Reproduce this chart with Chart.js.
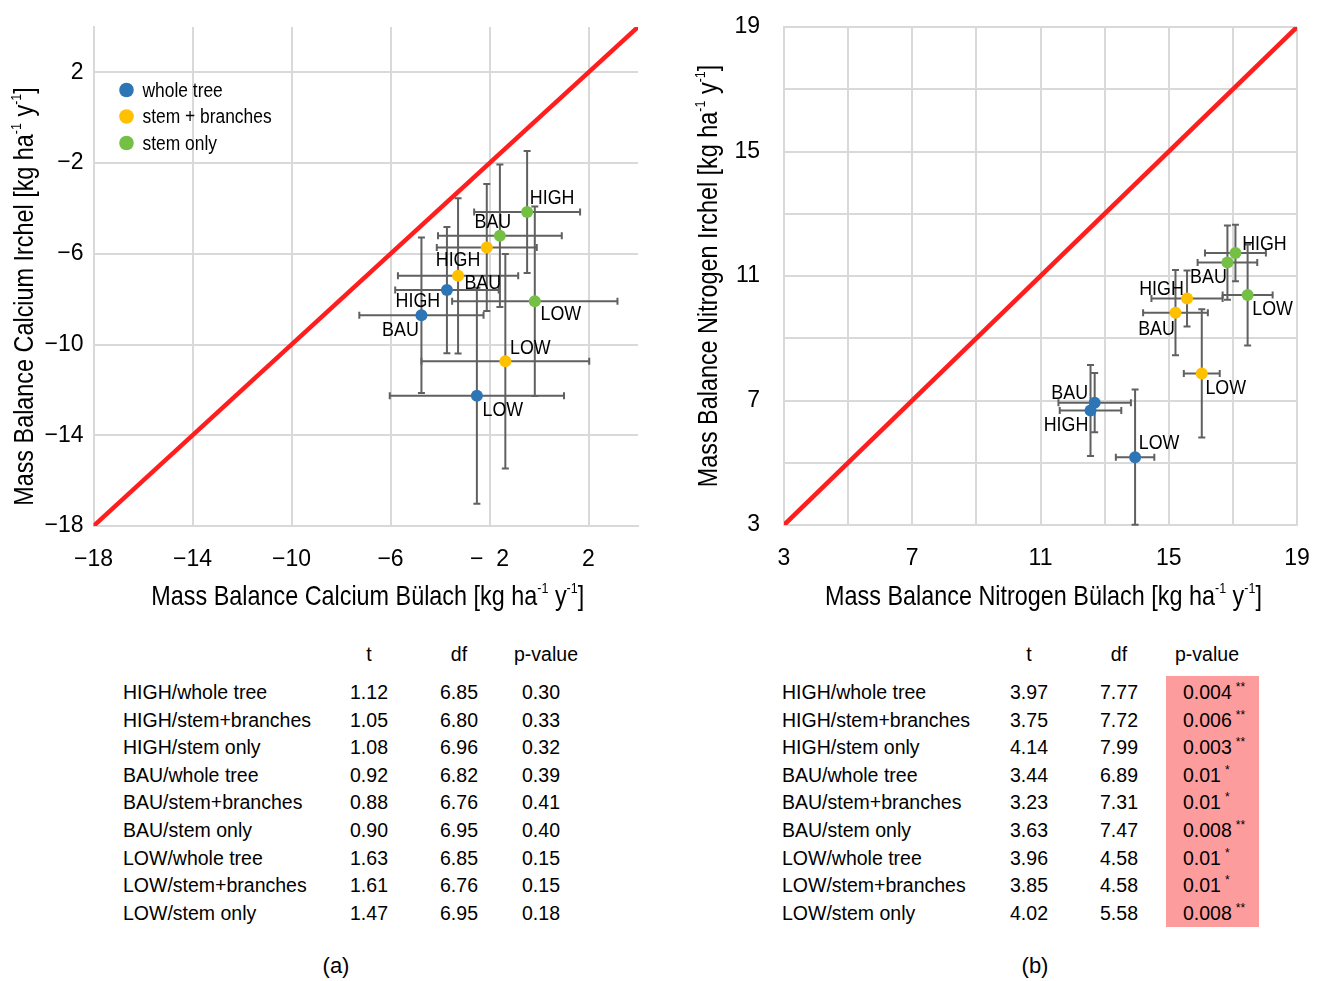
<!DOCTYPE html>
<html><head><meta charset="utf-8">
<script src="https://cdn.jsdelivr.net/npm/chart.js@4.4.1/dist/chart.umd.min.js"></script>
<style>
html,body{margin:0;padding:0;background:#fff;width:1322px;height:981px;overflow:hidden;font-family:"Liberation Sans",Arial,sans-serif;color:#000}
#w1{position:absolute;left:0;top:0;width:660px;height:620px}
#w2{position:absolute;left:660px;top:0;width:662px;height:620px}
.cell{position:absolute;font-size:19.5px;line-height:22px;white-space:nowrap}
.ctr{transform:translateX(-50%)}
.pink{position:absolute;background:#fd9c9c}
.cap{position:absolute;font-size:22px;transform:translateX(-50%)}
span.s{font-size:12px;position:relative;top:-8px;margin-left:4px;vertical-align:baseline;line-height:0}
</style>
</head><body>
<div id="w1"><canvas id="c1" width="660" height="620"></canvas></div>
<div id="w2"><canvas id="c2" width="662" height="620"></canvas></div>
<div id="tables"></div>
<script>
// ---------- data ----------
const groupNames = ['whole tree', 'stem + branches', 'stem only'];
const groupColors = ['#2E75B6', '#FFC000', '#74C044'];
const pointNames = ['HIGH', 'BAU', 'LOW'];

// (a) Calcium  (order: HIGH, BAU, LOW)
const caWholeX = [-3.72, -4.75, -2.51];
const caWholeY = [-7.60, -8.71, -12.26];
const caWholeXErr = [2.09, 2.51, 3.52];
const caWholeYErr = [2.78, 3.43, 4.76];
const caStemBrX = [-3.27, -2.11, -1.36];
const caStemBrY = [-6.97, -5.72, -10.74];
const caStemBrXErr = [2.43, 2.02, 3.39];
const caStemBrYErr = [3.42, 2.80, 4.73];
const caStemX = [-0.48, -1.58, -0.17];
const caStemY = [-4.16, -5.20, -8.09];
const caStemXErr = [2.14, 2.50, 3.34];
const caStemYErr = [2.69, 3.14, 4.18];
const caMin = -18, caMax = 4;
const caTicks = [-18, -14, -10, -6, -2, 2];
const caXTickLabels = ['\u221218', '\u221214', '\u221210', '\u22126', '\u2212  2', '2'];
const caYTickLabels = ['\u221218', '\u221214', '\u221210', '\u22126', '\u22122', '2'];

// (b) Nitrogen (order: HIGH, BAU, LOW)
const nWholeX = [12.56, 12.69, 13.95];
const nWholeY = [6.68, 6.93, 5.18];
const nWholeXErr = [0.96, 1.13, 0.60];
const nWholeYErr = [1.46, 0.95, 2.17];
const nStemBrX = [15.57, 15.21, 16.03];
const nStemBrY = [10.28, 9.82, 7.87];
const nStemBrXErr = [1.11, 1.01, 0.56];
const nStemBrYErr = [0.90, 1.37, 2.06];
const nStemX = [17.08, 16.83, 17.46];
const nStemY = [11.74, 11.43, 10.39];
const nStemXErr = [0.95, 0.93, 0.78];
const nStemYErr = [0.91, 1.19, 1.62];
const nMin = 3, nMax = 19;
const nGridValues = [3, 5, 7, 9, 11, 13, 15, 17, 19];
const nTickLabels = [3, 7, 11, 15, 19];

const oneToOne = [-18, 4, 3, 19]; // endpoints of the 1:1 line for (a) and (b)

// tables
const rowNames = ['HIGH/whole tree','HIGH/stem+branches','HIGH/stem only','BAU/whole tree','BAU/stem+branches','BAU/stem only','LOW/whole tree','LOW/stem+branches','LOW/stem only'];
const caT  = ['1.12','1.05','1.08','0.92','0.88','0.90','1.63','1.61','1.47'];
const caDf = ['6.85','6.80','6.96','6.82','6.76','6.95','6.85','6.76','6.95'];
const caP  = ['0.30','0.33','0.32','0.39','0.41','0.40','0.15','0.15','0.18'];
const nT   = ['3.97','3.75','4.14','3.44','3.23','3.63','3.96','3.85','4.02'];
const nDf  = ['7.77','7.72','7.99','6.89','7.31','7.47','4.58','4.58','5.58'];
const nP   = ['0.004','0.006','0.003','0.01','0.01','0.008','0.01','0.01','0.008'];
const nSig = ['**','**','**','*','*','**','*','*','**'];

// ---------- helpers ----------
const FONT = '"Liberation Sans", Arial, sans-serif';
function pts(xs, ys) { return xs.map((v, i) => ({ x: v, y: ys[i] })); }
function narrowText(ctx, text, x, y, sx) {
  ctx.save(); ctx.translate(x, y); ctx.scale(sx, 1); ctx.fillText(text, 0, 0); ctx.restore();
}

const errorBars = {
  id: 'errorBars',
  beforeDatasetsDraw(chart, args, o) {
    const { ctx, chartArea: a, scales: { x, y } } = chart;
    ctx.save();
    ctx.beginPath(); ctx.rect(a.left, a.top - 1, a.right - a.left, a.bottom - a.top + 2); ctx.clip();
    ctx.strokeStyle = o.color; ctx.lineWidth = o.width;
    chart.data.datasets.forEach(ds => {
      if (!ds.xErr) return;
      ds.data.forEach((p, i) => {
        const px = x.getPixelForValue(p.x), py = y.getPixelForValue(p.y);
        const x0 = x.getPixelForValue(p.x - ds.xErr[i]), x1 = x.getPixelForValue(p.x + ds.xErr[i]);
        const y0 = y.getPixelForValue(p.y - ds.yErr[i]), y1 = y.getPixelForValue(p.y + ds.yErr[i]);
        const c = o.cap;
        ctx.beginPath();
        ctx.moveTo(x0, py); ctx.lineTo(x1, py);
        ctx.moveTo(x0, py - c); ctx.lineTo(x0, py + c);
        ctx.moveTo(x1, py - c); ctx.lineTo(x1, py + c);
        ctx.moveTo(px, y0); ctx.lineTo(px, y1);
        ctx.moveTo(px - c, y0); ctx.lineTo(px + c, y0);
        ctx.moveTo(px - c, y1); ctx.lineTo(px + c, y1);
        ctx.stroke();
      });
    });
    ctx.restore();
  }
};

const pointLabels = {
  id: 'pointLabels',
  afterDatasetsDraw(chart, args, o) {
    const { ctx, scales: { x, y } } = chart;
    ctx.save();
    ctx.font = o.size + 'px ' + FONT; ctx.fillStyle = '#000';
    ctx.textAlign = 'center'; ctx.textBaseline = 'middle';
    chart.data.datasets.forEach((ds, di) => {
      if (!ds.names) return;
      ds.data.forEach((p, i) => {
        const off = o.offsets[di][i];
        narrowText(ctx, ds.names[i], x.getPixelForValue(p.x) + off[0], y.getPixelForValue(p.y) + off[1] + 1, o.sx);
      });
    });
    ctx.restore();
  }
};

const insideLegend = {
  id: 'insideLegend',
  afterDatasetsDraw(chart, args, o) {
    if (!o.show) return;
    const { ctx, chartArea: a } = chart;
    ctx.save();
    ctx.font = o.size + 'px ' + FONT; ctx.textBaseline = 'middle'; ctx.textAlign = 'left';
    chart.data.datasets.filter(d => d.names).forEach((ds, i) => {
      const cy = a.top + o.dy + i * o.step;
      ctx.fillStyle = ds.backgroundColor;
      ctx.beginPath(); ctx.arc(a.left + o.dx, cy, o.r, 0, Math.PI * 2); ctx.fill();
      ctx.fillStyle = '#000';
      narrowText(ctx, ds.label, a.left + o.dx + 16, cy + 1, o.sx);
    });
    ctx.restore();
  }
};

function drawRich(ctx, parts, cx, cy, size, sx, rot) {
  ctx.save(); ctx.translate(cx, cy); if (rot) ctx.rotate(-Math.PI / 2); ctx.scale(sx, 1);
  const big = size + 'px ' + FONT, small = Math.round(size * 0.55) + 'px ' + FONT;
  let w = 0;
  parts.forEach(([t, s]) => { ctx.font = s ? small : big; w += ctx.measureText(t).width; });
  let xx = -w / 2;
  ctx.textBaseline = 'middle'; ctx.textAlign = 'left'; ctx.fillStyle = '#000';
  parts.forEach(([t, s]) => { ctx.font = s ? small : big; ctx.fillText(t, xx, s ? -size * 0.3 : 0); xx += ctx.measureText(t).width; });
  ctx.restore();
}
function unitParts(main) { return [[main + ' [kg ha', 0], ['-1', 1], [' y', 0], ['-1', 1], [']', 0]]; }

const axisTitles = {
  id: 'axisTitles',
  afterDraw(chart, args, o) {
    const { ctx, chartArea: a } = chart;
    drawRich(ctx, unitParts(o.x), (a.left + a.right) / 2 + o.xdx, o.xy, o.size, o.sx, false);
    drawRich(ctx, unitParts(o.y), o.yx, (a.top + a.bottom) / 2 + o.ydy, o.size, o.sx, true);
  }
};

function scatterSets(xsArr, ysArr, xeArr, yeArr) {
  return groupNames.map((g, i) => ({
    label: g, names: pointNames,
    data: pts(xsArr[i], ysArr[i]),
    xErr: xeArr[i], yErr: yeArr[i],
    backgroundColor: groupColors[i], borderWidth: 0,
    pointRadius: 6, pointHoverRadius: 6
  }));
}

function makeChart(id, cfg) {
  const border = { color: '#d9d9d9', width: 2 };
  const tickFont = { family: FONT, size: 23 };
  return new Chart(document.getElementById(id), {
    type: 'scatter',
    data: {
      datasets: [
        ...cfg.sets,
        { label: '1:1', data: [{ x: cfg.line[0], y: cfg.line[0] }, { x: cfg.line[1], y: cfg.line[1] }],
          showLine: true, borderColor: '#FF1E1E', borderWidth: 4.5, pointRadius: 0, order: 5 }
      ]
    },
    options: {
      responsive: false, animation: false, events: [],
      layout: { padding: cfg.pad },
      plugins: {
        legend: { display: false }, tooltip: { enabled: false },
        errorBars: { color: '#606060', width: 2, cap: 3.5 },
        pointLabels: { size: 21, sx: 0.85, offsets: cfg.labelOffsets },
        insideLegend: { show: cfg.legend, dx: 33, dy: 63, step: 26.5, r: 7.3, size: 20, sx: 0.87 },
        axisTitles: Object.assign({ size: 28, sx: 0.835 }, cfg.titles)
      },
      scales: {
        x: {
          type: 'linear', min: cfg.min, max: cfg.max,
          grid: { color: '#d9d9d9', lineWidth: 2, drawTicks: true, tickLength: cfg.xtl, tickColor: 'rgba(0,0,0,0)' },
          border: border,
          afterBuildTicks: s => { s.ticks = cfg.xGrid.map(v => ({ value: v })); },
          afterFit: s => { s.height = cfg.xh; },
          ticks: { padding: 2, color: '#000', font: tickFont, maxRotation: 0, autoSkip: false, callback: cfg.xLabel }
        },
        y: {
          type: 'linear', min: cfg.min, max: cfg.max,
          grid: { color: '#d9d9d9', lineWidth: 2, drawTicks: true, tickLength: cfg.ytl, tickColor: 'rgba(0,0,0,0)' },
          border: border,
          afterBuildTicks: s => { s.ticks = cfg.yGrid.map(v => ({ value: v })); },
          afterFit: s => { s.width = cfg.yw; },
          ticks: { padding: 2, color: '#000', font: tickFont, autoSkip: false, callback: cfg.yLabel }
        }
      }
    },
    plugins: [errorBars, pointLabels, insideLegend, axisTitles]
  });
}

makeChart('c1', {
  sets: scatterSets([caWholeX, caStemBrX, caStemX], [caWholeY, caStemBrY, caStemY],
                    [caWholeXErr, caStemBrXErr, caStemXErr], [caWholeYErr, caStemBrYErr, caStemYErr]),
  line: [oneToOne[0], oneToOne[1]], min: caMin, max: caMax,
  xGrid: caTicks, yGrid: caTicks,
  xLabel: v => caXTickLabels[caTicks.indexOf(v)] ?? '',
  yLabel: v => caYTickLabels[caTicks.indexOf(v)] ?? '',
  pad: { left: 0, top: 27, right: 22, bottom: 0 }, yw: 93.5, xh: 94, xtl: 18, ytl: 8,
  legend: true,
  labelOffsets: [
    [[-29, 10], [-21, 14], [26, 13]],
    [[0, -17], [-4, 35], [25, -14]],
    [[25, -15], [-7, -14], [26, 12]]
  ],
  titles: { x: 'Mass Balance Calcium B\u00fclach', y: 'Mass Balance Calcium Irchel', xdx: 2, xy: 597, yx: 25, ydy: 20 }
});

makeChart('c2', {
  sets: scatterSets([nWholeX, nStemBrX, nStemX], [nWholeY, nStemBrY, nStemY],
                    [nWholeXErr, nStemBrXErr, nStemXErr], [nWholeYErr, nStemBrYErr, nStemYErr]),
  line: [oneToOne[2], oneToOne[3]], min: nMin, max: nMax,
  xGrid: nGridValues, yGrid: nGridValues,
  xLabel: v => nTickLabels.includes(v) ? String(v) : '',
  yLabel: v => nTickLabels.includes(v) ? String(v) : '',
  pad: { left: 0, top: 27, right: 25, bottom: 0 }, yw: 124, xh: 95, xtl: 18, ytl: 22,
  legend: false,
  labelOffsets: [
    [[-24.5, 13.5], [-25, -10.5], [24, -15]],
    [[-25.5, -10.5], [-19, 15], [24, 14]],
    [[29, -10], [-19, 14], [25, 13]]
  ],
  titles: { x: 'Mass Balance Nitrogen B\u00fclach', y: 'Mass Balance Nitrogen Irchel', xdx: 3, xy: 597, yx: 49, ydy: 0 }
});

// ---------- tables ----------
(function () {
  const host = document.getElementById('tables');
  const rowY0 = 681, rowStep = 27.6, headY = 643;
  function cell(txt, x, y, center, html) {
    const d = document.createElement('div');
    d.className = 'cell' + (center ? ' ctr' : '');
    d.style.left = x + 'px'; d.style.top = y + 'px';
    if (html) d.innerHTML = txt; else d.textContent = txt;
    host.appendChild(d);
  }
  const pink = document.createElement('div');
  pink.className = 'pink';
  Object.assign(pink.style, { left: '1166px', top: '676px', width: '93px', height: '251px' });
  host.appendChild(pink);

  cell('t', 369, headY, true); cell('df', 459, headY, true); cell('p-value', 546, headY, true);
  cell('t', 1029, headY, true); cell('df', 1119, headY, true); cell('p-value', 1207, headY, true);
  rowNames.forEach((r, i) => {
    const y = rowY0 + i * rowStep;
    cell(r, 123, y, false); cell(caT[i], 369, y, true); cell(caDf[i], 459, y, true); cell(caP[i], 541, y, true);
    cell(r, 782, y, false); cell(nT[i], 1029, y, true); cell(nDf[i], 1119, y, true);
    cell(nP[i] + '<span class="s">' + nSig[i] + '</span>', 1183, y, false, true);
  });
  const ca = document.createElement('div'); ca.className = 'cap'; ca.textContent = '(a)';
  Object.assign(ca.style, { left: '336px', top: '953px' }); host.appendChild(ca);
  const cb = document.createElement('div'); cb.className = 'cap'; cb.textContent = '(b)';
  Object.assign(cb.style, { left: '1035px', top: '953px' }); host.appendChild(cb);
})();
</script>
</body></html>
